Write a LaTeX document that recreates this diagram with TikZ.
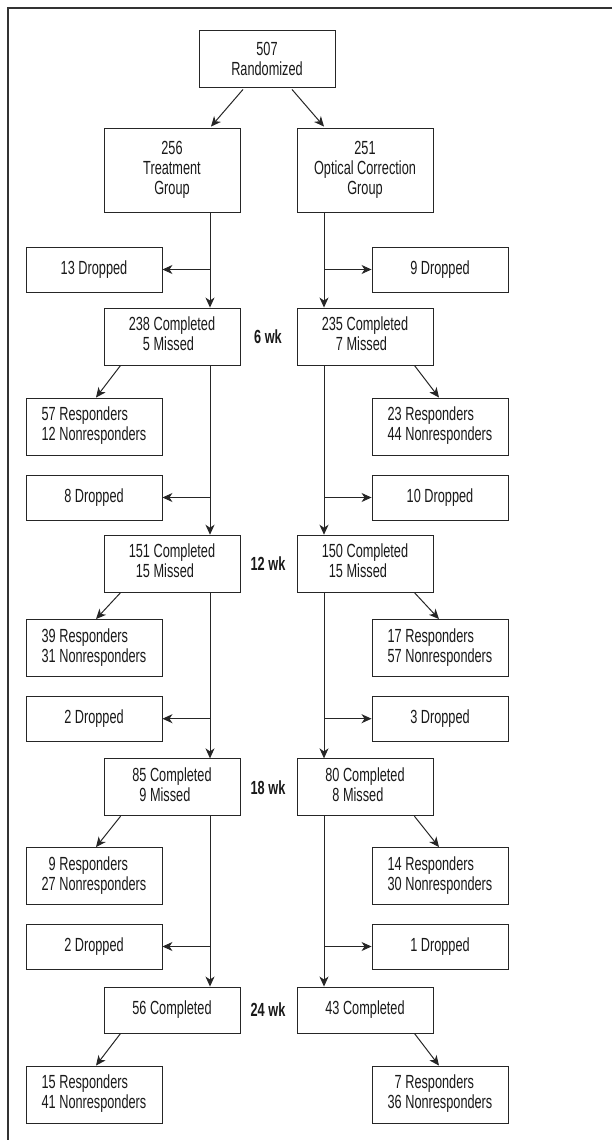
\documentclass[tikz,border=0pt]{standalone}
\usepackage{fontspec}
\setmainfont{Liberation Sans}[FakeStretch=0.67]
\usetikzlibrary{arrows.meta,calc}
\newcommand\pairtab[4]{\begin{tabular}{@{}r@{ }l@{}}#1&#2\\#3&#4\end{tabular}}
\begin{document}
\begin{tikzpicture}[x=1pt,y=-1pt,
  box/.style={draw=black!85,line width=0.9pt,minimum width=136pt,inner sep=0pt,align=center,font=\fontsize{19}{20}\selectfont,text=black!90},
  mainbox/.style={box,minimum height=57pt},
  dropbox/.style={box,minimum height=45pt},
  arr/.style={draw=black!85,line width=1pt,-{Stealth[length=10pt,width=9pt,inset=3pt]}},
  wk/.style={font=\fontsize{19}{20}\selectfont\bfseries,inner sep=0pt,text=black!90}]
\useasboundingbox (0,0) rectangle (613,1140);
\draw[line width=1.3pt,black!80] (612,8) -- (8,8) -- (8,1140);
\coordinate (lx) at (210,0);
\coordinate (rx) at (324,0);
% top
\node[mainbox] (rand) at (267,58.5) {507\\Randomized};
\node[box,minimum height=84pt] (tg) at (172,170) {256\\Treatment\\Group};
\node[box,minimum height=84pt] (og) at (365,170) {251\\Optical Correction\\Group};
\draw[arr] ($(rand.south)+(-24,2)$) -- ($(tg.north)+(39,-1)$);
\draw[arr] ($(rand.south)+(25,2)$) -- ($(og.north)+(-41,-1)$);
% dropped
\node[dropbox] (d1l) at (94,269.5) {13 Dropped};
\node[dropbox] (d1r) at (440,269.5) {9 Dropped};
\node[dropbox] (d2l) at (94,497.5) {8 Dropped};
\node[dropbox] (d2r) at (440,497.5) {10 Dropped};
\node[dropbox] (d3l) at (94,718.7) {2 Dropped};
\node[dropbox] (d3r) at (440,718.7) {3 Dropped};
\node[dropbox] (d4l) at (94,946.5) {2 Dropped};
\node[dropbox] (d4r) at (440,946.5) {1 Dropped};
% completed
\node[mainbox] (c6l) at (172,336.5) {\pairtab{238}{Completed}{5}{Missed}};
\node[mainbox] (c6r) at (365,336.5) {\pairtab{235}{Completed}{7}{Missed}};
\node[mainbox] (c12l) at (172,563.7) {\pairtab{151}{Completed}{15}{Missed}};
\node[mainbox] (c12r) at (365,563.7) {\pairtab{150}{Completed}{15}{Missed}};
\node[mainbox] (c18l) at (172,787.3) {\pairtab{85}{Completed}{9}{Missed}};
\node[mainbox] (c18r) at (365,787.3) {\pairtab{80}{Completed}{8}{Missed}};
\node[box,minimum height=46pt] (c24l) at (172,1010) {56 Completed};
\node[box,minimum height=46pt] (c24r) at (365,1010) {43 Completed};
% weeks
\node[wk] (w6) at (268,336.5) {6 wk};
\node[wk] (w12) at (268,563.7) {12 wk};
\node[wk] (w18) at (268,787.3) {18 wk};
\node[wk] (w24) at (268,1010) {24 wk};
% responders
\node[mainbox] (r6l) at (94,426.5) {\pairtab{57}{Responders}{12}{Nonresponders}};
\node[mainbox] (r6r) at (440,426.5) {\pairtab{23}{Responders}{44}{Nonresponders}};
\node[mainbox] (r12l) at (94,648) {\pairtab{39}{Responders}{31}{Nonresponders}};
\node[mainbox] (r12r) at (440,648) {\pairtab{17}{Responders}{57}{Nonresponders}};
\node[mainbox] (r18l) at (94,876) {\pairtab{9}{Responders}{27}{Nonresponders}};
\node[mainbox] (r18r) at (440,876) {\pairtab{14}{Responders}{30}{Nonresponders}};
\node[mainbox] (r24l) at (94,1094.5) {\pairtab{15}{Responders}{41}{Nonresponders}};
\node[mainbox] (r24r) at (440,1094.5) {\pairtab{7}{Responders}{36}{Nonresponders}};
% vertical flow
\draw[arr] (tg.south -| lx) -- (c6l.north -| lx);
\draw[arr] (og.south -| rx) -- (c6r.north -| rx);
\draw[arr] (c6l.south -| lx) -- (c12l.north -| lx);
\draw[arr] (c6r.south -| rx) -- (c12r.north -| rx);
\draw[arr] (c12l.south -| lx) -- (c18l.north -| lx);
\draw[arr] (c12r.south -| rx) -- (c18r.north -| rx);
\draw[arr] (c18l.south -| lx) -- (c24l.north -| lx);
\draw[arr] (c18r.south -| rx) -- (c24r.north -| rx);
% dropped branches
\foreach \n in {1,2,3,4}{
  \draw[arr] (d\n l.east -| lx) -- (d\n l.east);
  \draw[arr] (d\n r.west -| rx) -- (d\n r.west);
}
% responder diagonals
\foreach \w in {6,12,18,24}{
  \draw[arr] ($(c\w l.south west)+(17,0)$) -- ($(r\w l.north)+(2,0)$);
  \draw[arr] ($(c\w r.south east)+(-19,0)$) -- ($(r\w r.north)+(-1,0)$);
}
\end{tikzpicture}
\end{document}
